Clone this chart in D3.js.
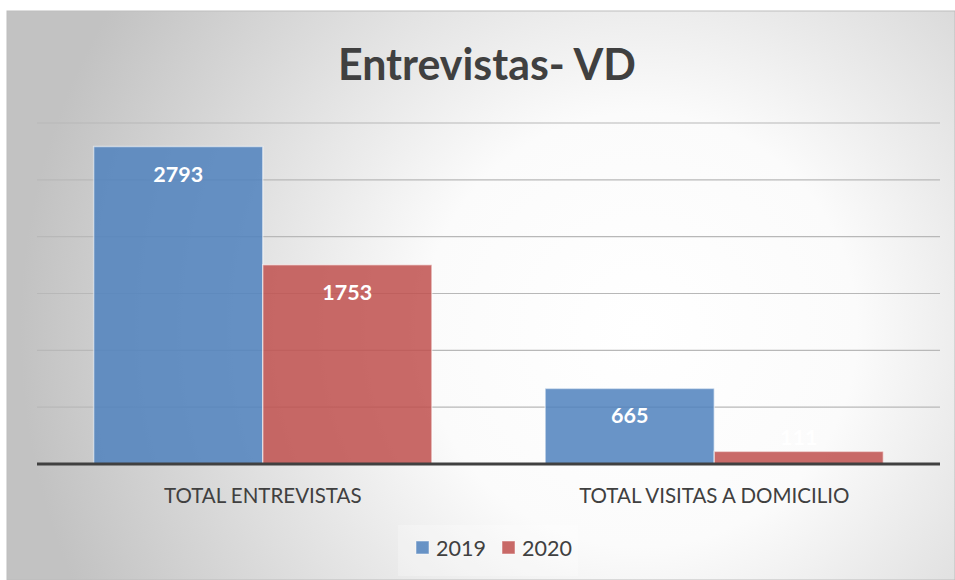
<!DOCTYPE html>
<html>
<head>
<meta charset="utf-8">
<script src="https://cdn.jsdelivr.net/npm/d3@7"></script>
<style>
  body { margin: 0; background: #fff; }
  svg { display: block; font-family: Lato, "Open Sans", sans-serif; }
</style>
</head>
<body>
<svg id="chart" width="955" height="580"></svg>
<script>
// data
var categories = ["TOTAL ENTREVISTAS", "TOTAL VISITAS A DOMICILIO"];
var seriesNames = ["2019", "2020"];
var values2019 = [2793, 665];
var values2020 = [1753, 111];
var gridTicks = [500, 1000, 1500, 2000, 2500, 3000];
var colors = ["#4F81BD", "#C0504D"];

var svg = d3.select("#chart");
var W = 955, H = 580;

// background gradient
var defs = svg.append("defs");
var grad = defs.append("radialGradient")
  .attr("id", "bg")
  .attr("gradientUnits", "userSpaceOnUse")
  .attr("cx", 640).attr("cy", 330).attr("r", 620);
grad.append("stop").attr("offset", "0%").attr("stop-color", "#ffffff");
grad.append("stop").attr("offset", "35%").attr("stop-color", "#fbfbfb");
grad.append("stop").attr("offset", "100%").attr("stop-color", "#c2c2c2");

svg.append("rect")
  .attr("x", 7).attr("y", 11)
  .attr("width", W - 7).attr("height", H - 11)
  .attr("fill", "url(#bg)")
  .attr("stroke", "#bdbdbd")
  .attr("stroke-width", 1);

// title
svg.append("text")
  .attr("x", 487).attr("y", 80)
  .attr("text-anchor", "middle")
  .attr("font-size", 44)
  .attr("font-weight", "bold")
  .attr("fill", "#404040")
  .attr("textLength", 298)
  .attr("lengthAdjust", "spacingAndGlyphs")
  .text("Entrevistas- VD");

// scales
var margin = { left: 37, right: 15, top: 123, bottom: 116 };
var x0 = d3.scaleBand()
  .domain(categories)
  .range([margin.left, W - margin.right])
  .paddingInner(0)
  .paddingOuter(0);
var x1 = d3.scaleBand()
  .domain(seriesNames)
  .range([0, x0.bandwidth()])
  .paddingInner(0)
  .paddingOuter(0.335);
var y = d3.scaleLinear()
  .domain([0, 3000])
  .range([H - margin.bottom, margin.top]);

// gridlines
svg.append("g")
  .selectAll("line.grid")
  .data(gridTicks)
  .enter()
  .append("line")
  .classed("grid", true)
  .attr("x1", margin.left)
  .attr("x2", W - margin.right)
  .attr("y1", function(d) { return y(d); })
  .attr("y2", function(d) { return y(d); })
  .attr("stroke", "#b8b8b8")
  .attr("stroke-width", 1.2);

// bars
var rows = categories.map(function(c, i) {
  return [
    { cat: c, series: "2019", value: values2019[i], color: colors[0] },
    { cat: c, series: "2020", value: values2020[i], color: colors[1] }
  ];
});
var flat = d3.merge(rows);

svg.append("g")
  .selectAll("rect.bar")
  .data(flat)
  .enter()
  .append("rect")
  .classed("bar", true)
  .attr("x", function(d) { return x0(d.cat) + x1(d.series); })
  .attr("y", function(d) { return y(d.value); })
  .attr("width", x1.bandwidth())
  .attr("height", function(d) { return y(0) - y(d.value); })
  .attr("fill", function(d) { return d.color; })
  .attr("fill-opacity", 0.85)
  .attr("stroke", "#ffffff")
  .attr("stroke-opacity", 0.5)
  .attr("stroke-width", 1.5);

// value labels
svg.append("g")
  .selectAll("text.value")
  .data(flat)
  .enter()
  .append("text")
  .classed("value", true)
  .attr("x", function(d) { return x0(d.cat) + x1(d.series) + x1.bandwidth() / 2; })
  .attr("y", function(d) {
    var h = y(0) - y(d.value);
    return h < 40 ? y(d.value) - 6 : y(d.value) + 35;
  })
  .attr("text-anchor", "middle")
  .attr("font-size", 21.5)
  .attr("font-weight", "bold")
  .attr("fill", "#ffffff")
  .text(function(d) { return d.value; });

// baseline
svg.append("line")
  .attr("x1", margin.left)
  .attr("x2", W - margin.right)
  .attr("y1", y(0))
  .attr("y2", y(0))
  .attr("stroke", "#404040")
  .attr("stroke-width", 3);

// category labels
svg.append("g")
  .selectAll("text.cat")
  .data(categories)
  .enter()
  .append("text")
  .classed("cat", true)
  .attr("x", function(d) { return x0(d) + x0.bandwidth() / 2; })
  .attr("y", 503)
  .attr("text-anchor", "middle")
  .attr("font-size", 20.5)
  .attr("fill", "#404040")
  .text(function(d) { return d; });

// legend
var legend = svg.append("g");
legend.append("rect")
  .attr("x", 398).attr("y", 525)
  .attr("width", 180).attr("height", 51)
  .attr("fill", "#ffffff")
  .attr("fill-opacity", 0.25);

var items = legend.selectAll("g.item")
  .data(seriesNames)
  .enter()
  .append("g")
  .classed("item", true)
  .attr("transform", function(d, i) { return "translate(" + (416 + i * 86) + ",0)"; });
items.append("rect")
  .attr("x", 0).attr("y", 541)
  .attr("width", 13).attr("height", 13)
  .attr("fill", function(d, i) { return colors[i]; })
  .attr("fill-opacity", 0.85)
  .attr("stroke", "#ffffff")
  .attr("stroke-opacity", 0.5);
items.append("text")
  .attr("x", 20).attr("y", 556)
  .attr("font-size", 21.5)
  .attr("fill", "#404040")
  .text(function(d) { return d; });
</script>
</body>
</html>
